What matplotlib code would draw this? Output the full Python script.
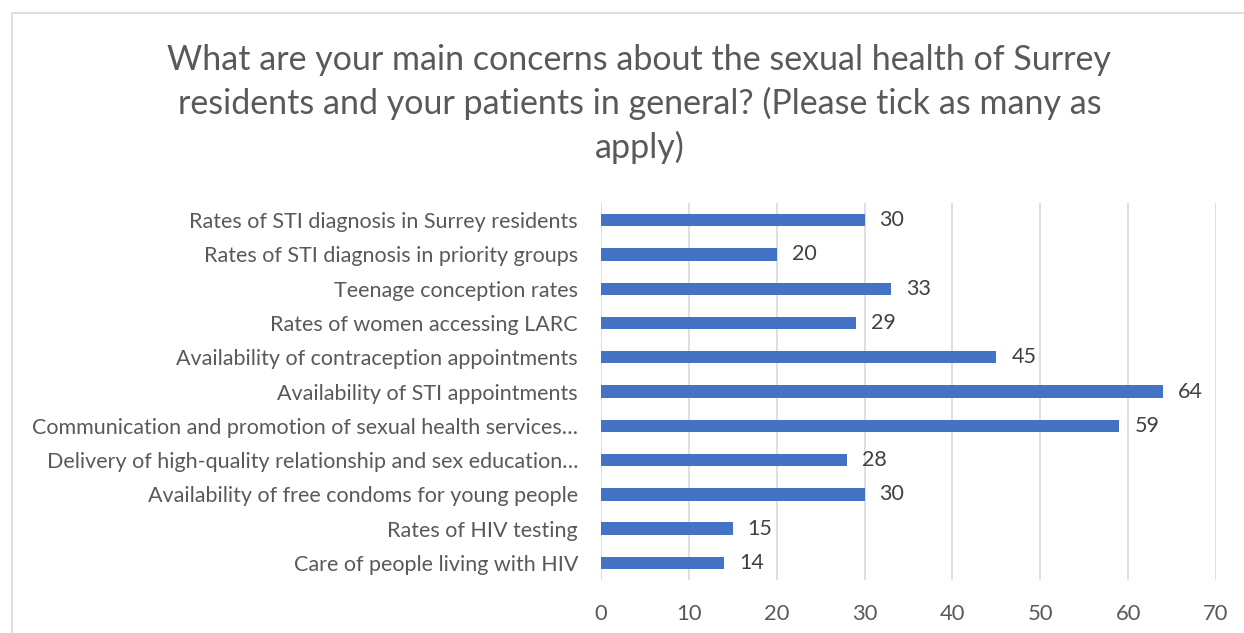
import matplotlib.pyplot as plt
from matplotlib.patches import Rectangle

plt.rcParams['font.family'] = ['Lato', 'DejaVu Sans']

concerns = [
    "Rates of STI diagnosis in Surrey residents",
    "Rates of STI diagnosis in priority groups",
    "Teenage conception rates",
    "Rates of women accessing LARC",
    "Availability of contraception appointments",
    "Availability of STI appointments",
    "Communication and promotion of sexual health services…",
    "Delivery of high-quality relationship and sex education…",
    "Availability of free condoms for young people",
    "Rates of HIV testing",
    "Care of people living with HIV",
]
counts = [30, 20, 33, 29, 45, 64, 59, 28, 30, 15, 14]
xticks = [0, 10, 20, 30, 40, 50, 60, 70]

fig = plt.figure(figsize=(12.44, 6.33), dpi=100)
ax = fig.add_axes([0.4831, 0.0837, 0.4944, 0.5956])

pos = list(range(len(concerns)))
ax.barh(pos, counts, height=0.36, color='#4472C4', zorder=3)
for y, v in zip(pos, counts):
    ax.text(v + 1.7, y, str(v), va='center', ha='left', fontsize=15.5, color='#404040')

ax.set_xlim(0, 70)
ax.set_ylim(len(concerns) - 0.5, -0.5)
ax.set_xticks(xticks)
ax.set_yticks(pos)
ax.set_yticklabels(concerns, fontsize=15.5)
ax.tick_params(axis='both', length=0, labelcolor='#595959')
ax.tick_params(axis='x', labelsize=15.8, pad=17.5)
ax.tick_params(axis='y', pad=16.5)
ax.xaxis.grid(True, color='#d9d9d9', linewidth=1.2, zorder=0)
for s in ax.spines.values():
    s.set_visible(False)

# chart area outline (cut off on the right and bottom)
fig.patches.append(Rectangle((12 / 1244, -0.1), 1.2, (633 - 13) / 633 + 0.1,
                             transform=fig.transFigure, fill=False,
                             edgecolor='#d9d9d9', linewidth=1.2))

fig.text(0.514, 0.835,
         "What are your main concerns about the sexual health of Surrey\n"
         "residents and your patients in general? (Please tick as many as\n"
         "apply)",
         ha='center', va='center', fontsize=24.5, color='#595959', linespacing=1.4)

fig.savefig('out.png', dpi=100)
